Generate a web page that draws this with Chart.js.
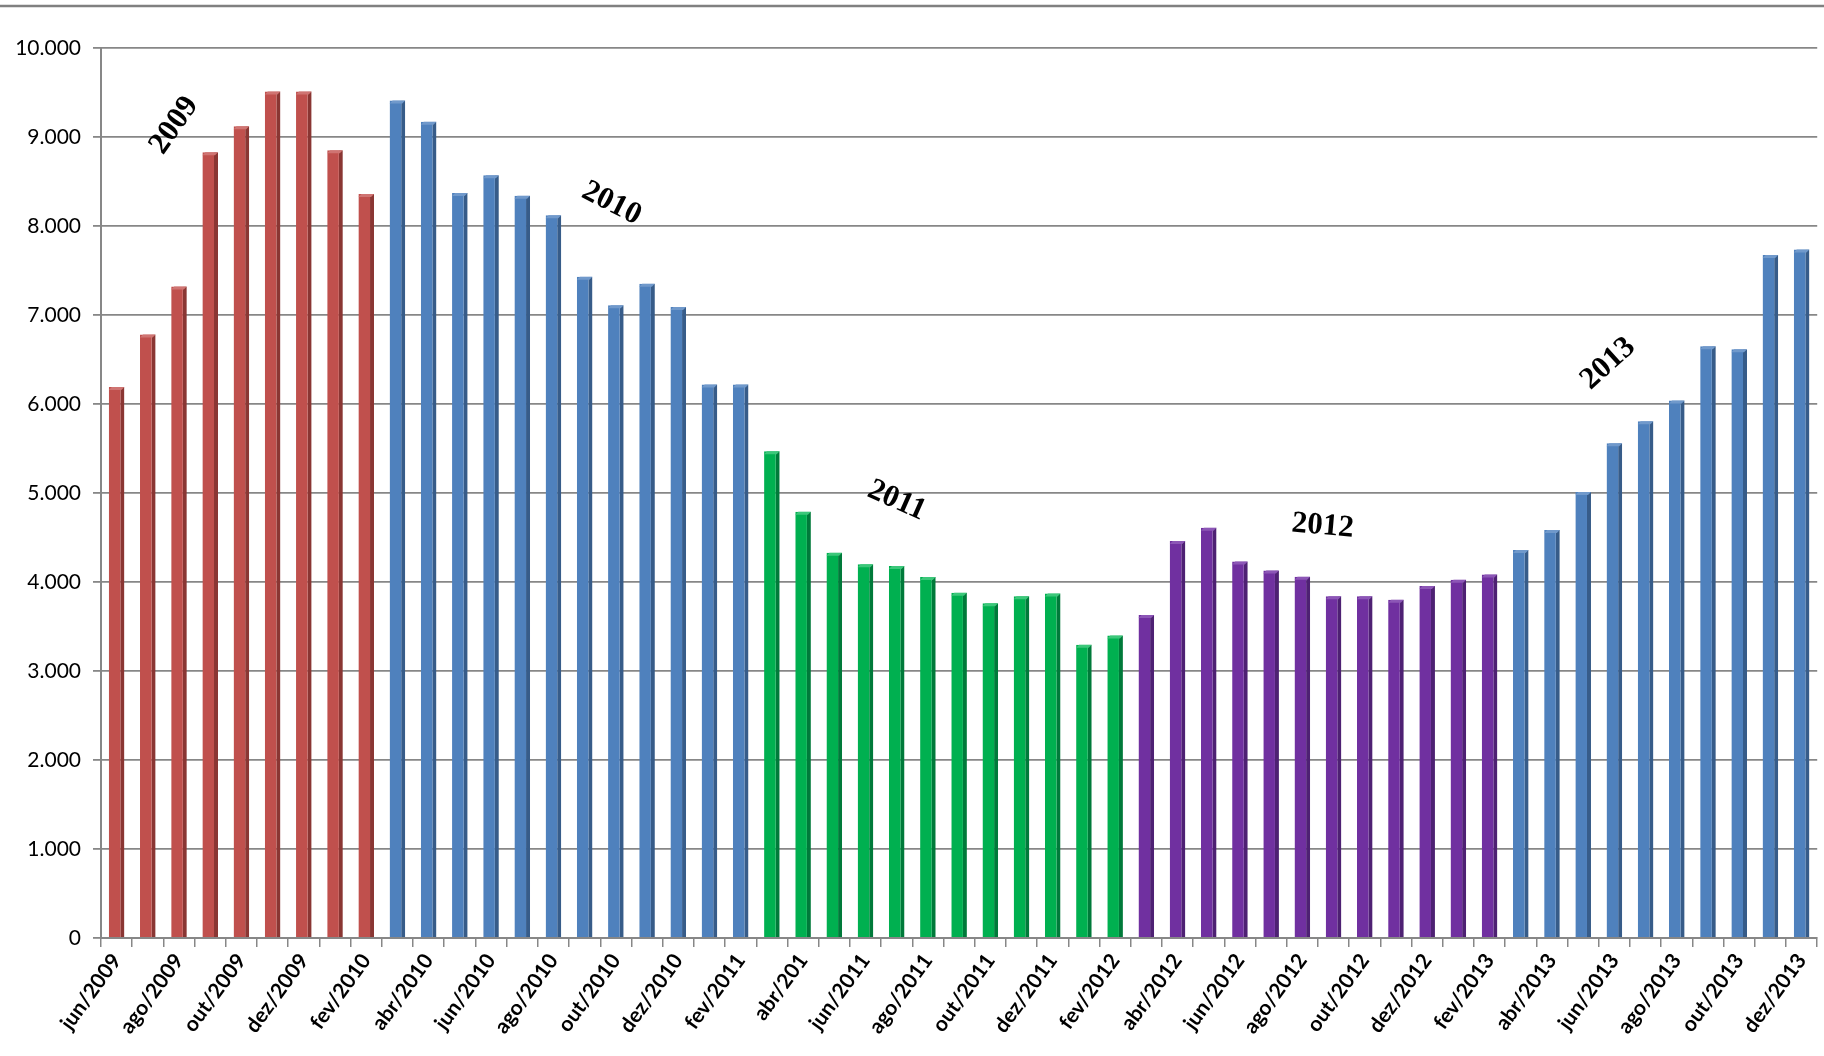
<!DOCTYPE html>
<html lang="pt-BR">
<head>
<meta charset="utf-8">
<script src="https://cdn.jsdelivr.net/npm/chart.js@4.4.1/dist/chart.umd.min.js"></script>
<style>
  html, body { margin: 0; padding: 0; background: #fff; }
  #wrap { position: relative; width: 1824px; height: 1056px; }
</style>
</head>
<body>
<div id="wrap"><canvas id="grafico"></canvas></div>
<script>
// meses (rótulos do eixo x) - "abr/201" está assim no original
const meses = [
  'jun/2009','jul/2009','ago/2009','set/2009','out/2009','nov/2009','dez/2009','jan/2010','fev/2010',
  'mar/2010','abr/2010','mai/2010','jun/2010','jul/2010','ago/2010','set/2010','out/2010','nov/2010','dez/2010','jan/2011','fev/2011',
  'mar/2011','abr/201','mai/2011','jun/2011','jul/2011','ago/2011','set/2011','out/2011','nov/2011','dez/2011','jan/2012','fev/2012',
  'mar/2012','abr/2012','mai/2012','jun/2012','jul/2012','ago/2012','set/2012','out/2012','nov/2012','dez/2012','jan/2013','fev/2013',
  'mar/2013','abr/2013','mai/2013','jun/2013','jul/2013','ago/2013','set/2013','out/2013','nov/2013','dez/2013'
];

const valores = [
  6190, 6780, 7320, 8830, 9120, 9510, 9510, 8850, 8360,
  9410, 9170, 8370, 8570, 8340, 8120, 7430, 7110, 7350, 7090, 6220, 6220,
  5470, 4790, 4330, 4200, 4180, 4055, 3880, 3760, 3840, 3870, 3295, 3400,
  3630, 4460, 4610, 4230, 4130, 4060, 3840, 3840, 3800, 3955, 4025, 4085,
  4360, 4585, 5010, 5560, 5805, 6040, 6650, 6615, 7675, 7735
];

// quantidade de meses em cada período (mar a fev)
const grupoTamanhos = [9, 12, 12, 12, 10];
const coresFrente = ['#C0504D', '#4F81BD', '#00B050', '#7030A0', '#4F81BD'];
const coresLado   = ['#8A3633', '#375C89', '#007A3A', '#4E2173', '#375C89'];
const coresTopo   = ['#CF7472', '#7099CB', '#3CC77A', '#8C56B6', '#7099CB'];

// rótulos dos anos
const anosTexto  = ['2009', '2010', '2011', '2012', '2013'];
const anosPosX   = [1.85, 15.86, 25.0, 38.65, 47.8];
const anosPosY   = [9130, 8253, 4915, 4628, 6454];
const anosAngulo = [-55, 27, 24, 5, -42];

function porGrupo(lista) {
  const out = [];
  grupoTamanhos.forEach((n, g) => { for (let i = 0; i < n; i++) out.push(lista[g]); });
  return out;
}

function milhar(v) {
  return String(v).replace(/\B(?=(\d{3})+(?!\d))/g, '.');
}

const corGrade = '#878787';

// linha cinza no topo da imagem
const linhaTopo = {
  id: 'linhaTopo',
  beforeDraw(chart) {
    const ctx = chart.ctx;
    ctx.save();
    ctx.fillStyle = '#fff';
    ctx.fillRect(0, 0, chart.width, chart.height);
    ctx.strokeStyle = '#808080';
    ctx.lineWidth = 2.5;
    ctx.beginPath();
    ctx.moveTo(0, 6);
    ctx.lineTo(chart.width, 6);
    ctx.stroke();
    ctx.restore();
  }
};

// face superior das colunas (efeito 3D)
const topoColunas = {
  id: 'topoColunas',
  afterDatasetsDraw(chart) {
    const ctx = chart.ctx;
    const meta = chart.getDatasetMeta(0);
    const topos = porGrupo(coresTopo);
    ctx.save();
    meta.data.forEach((bar, i) => {
      const l = bar.x - bar.width / 2;
      const r = bar.x + bar.width / 2;
      const y = bar.y;
      ctx.fillStyle = topos[i];
      ctx.beginPath();
      ctx.moveTo(l, y + 3);
      ctx.lineTo(l + 3, y);
      ctx.lineTo(r, y);
      ctx.lineTo(r - 3, y + 3);
      ctx.closePath();
      ctx.fill();
    });
    ctx.restore();
  }
};

// textos dos anos
const textoAnos = {
  id: 'textoAnos',
  afterDraw(chart) {
    const ctx = chart.ctx;
    const xs = chart.scales.x, ys = chart.scales.y;
    ctx.save();
    ctx.fillStyle = '#000';
    ctx.font = 'bold 31px "Liberation Serif", "Times New Roman", serif';
    ctx.textAlign = 'center';
    ctx.textBaseline = 'middle';
    anosTexto.forEach((t, i) => {
      const px = xs.getPixelForValue(anosPosX[i]);
      const py = ys.getPixelForValue(anosPosY[i]);
      ctx.save();
      ctx.translate(px, py);
      ctx.rotate(anosAngulo[i] * Math.PI / 180);
      ctx.fillText(t, 0, 0);
      ctx.restore();
    });
    ctx.restore();
  }
};

const ctx = document.getElementById('grafico').getContext('2d');
const grafico = new Chart(ctx, {
  type: 'bar',
  data: {
    labels: meses,
    datasets: [{
      data: valores,
      backgroundColor: porGrupo(coresFrente),
      borderColor: porGrupo(coresLado),
      borderWidth: { left: 0, right: 4, top: 0, bottom: 0 },
      borderSkipped: false,
      barPercentage: 0.5,
      categoryPercentage: 1.0
    }]
  },
  options: {
    responsive: true,
    maintainAspectRatio: false,
    animation: false,
    layout: { padding: { top: 48, right: 0, bottom: 0, left: 0 } },
    plugins: {
      legend: { display: false },
      tooltip: { enabled: false }
    },
    scales: {
      x: {
        offset: true,
        grid: {
          display: true,
          drawOnChartArea: false,
          color: corGrade,
          lineWidth: 1.5,
          tickLength: 9,
          offset: true
        },
        border: { display: true, color: corGrade, width: 2 },
        ticks: {
          autoSkip: false,
          maxRotation: 54,
          minRotation: 54,
          padding: 2,
          color: '#000',
          font: { family: 'Lato, "Open Sans", sans-serif', size: 21, weight: 'bold' },
          callback: (v, i) => (i % 2 === 0 ? meses[i] : '')
        },
        afterFit: (s) => { s.height = 118; }
      },
      y: {
        min: 0,
        max: 10000,
        ticks: {
          stepSize: 1000,
          padding: 12,
          color: '#000',
          font: { family: 'Lato, "Open Sans", sans-serif', size: 21 },
          callback: (v) => milhar(v)
        },
        grid: {
          color: corGrade,
          lineWidth: 1.8,
          tickLength: 8
        },
        border: { display: true, color: corGrade, width: 2 },
        afterFit: (s) => { s.width = 101; }
      }
    }
  },
  plugins: [linhaTopo, topoColunas, textoAnos]
});
</script>
</body>
</html>
